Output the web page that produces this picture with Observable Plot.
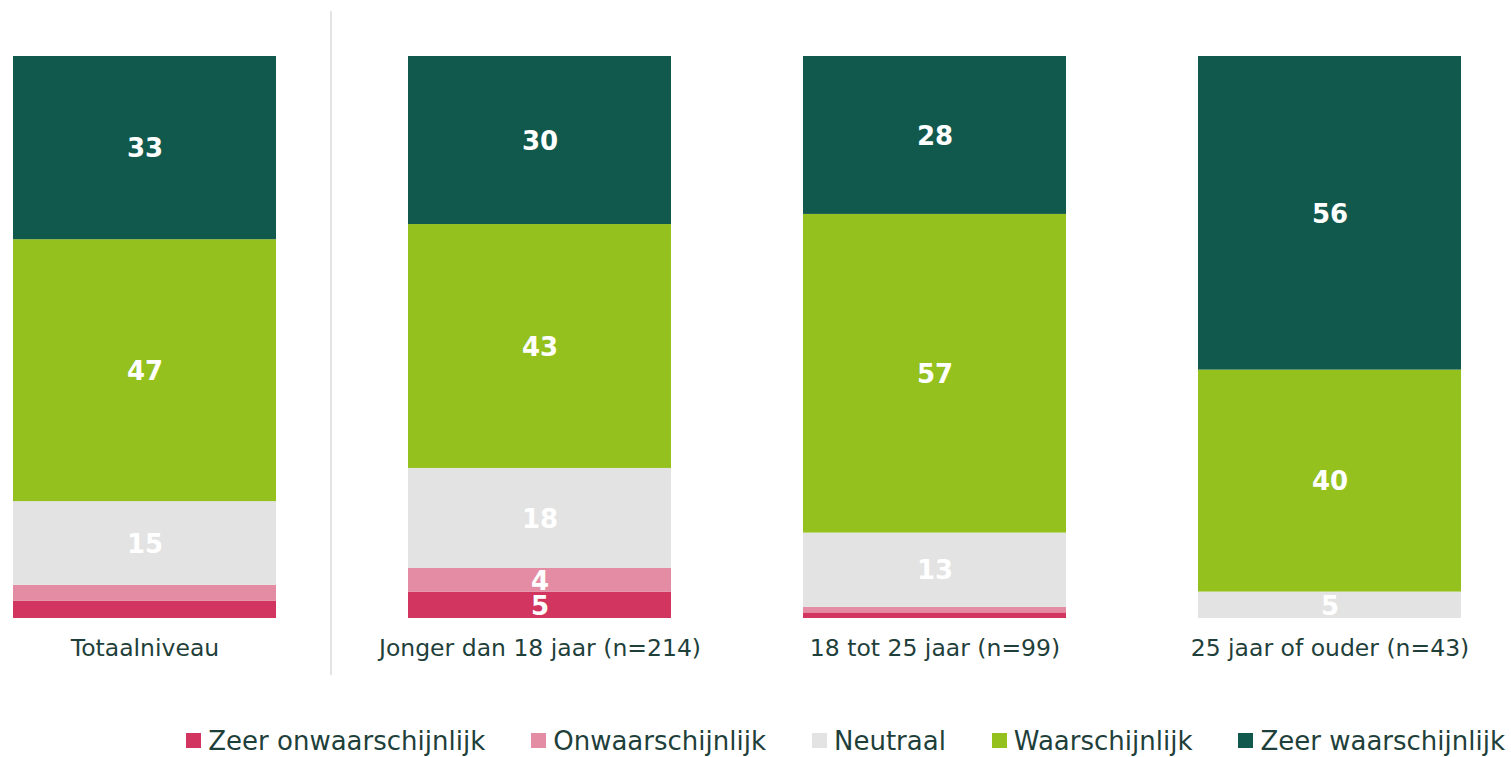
<!DOCTYPE html>
<html>
<head>
<meta charset="utf-8">
<script src="https://cdn.jsdelivr.net/npm/d3@7"></script>
<script src="https://cdn.jsdelivr.net/npm/@observablehq/plot@0.6"></script>
<style>
  body { margin: 0; background: #fff; }
  #wrap { position: relative; width: 1511px; }
  #divider { position: absolute; left: 330px; top: 11px; width: 2px; height: 664px; background: #e4e4e4; }
  .lg-swatches { justify-content: flex-end; padding-right: 6px; margin-top: 34px; font-family: "DejaVu Sans", sans-serif; font-size: 26px; color: #1f3f3b; }
  .lg-swatch { margin-right: 46px; }
  .lg-swatch:last-child { margin-right: 0; }
  .lg-swatch > svg { margin-right: 7px; }
</style>
</head>
<body>
<div id="wrap"><div id="divider"></div></div>
<script>
const categories = ["Totaalniveau", "Jonger dan 18 jaar (n=214)", "18 tot 25 jaar (n=99)", "25 jaar of ouder (n=43)"];
const responses = ["Zeer onwaarschijnlijk", "Onwaarschijnlijk", "Neutraal", "Waarschijnlijk", "Zeer waarschijnlijk"];
const zeerOnwaarschijnlijk = [3.1, 4.7, 1.0, 0];
const onwaarschijnlijk = [2.8, 4.2, 1.0, 0];
const neutraal = [14.9, 17.8, 13.2, 4.7];
const waarschijnlijk = [46.6, 43.4, 56.7, 39.5];
const zeerWaarschijnlijk = [32.6, 29.9, 28.1, 55.8];
const colors = ["#d23660", "#e48ca4", "#e3e3e3", "#95c11f", "#12594d"];

const series = [zeerOnwaarschijnlijk, onwaarschijnlijk, neutraal, waarschijnlijk, zeerWaarschijnlijk];
const rows = [];
responses.forEach((r, i) => categories.forEach((c, j) => rows.push({category: c, response: r, value: series[i][j]})));

const plot = Plot.plot({
  width: 1511,
  height: 690,
  marginTop: 56,
  marginBottom: 72,
  marginLeft: 12,
  marginRight: 48,
  style: {fontFamily: "DejaVu Sans, sans-serif", fontSize: "23.5px", color: "#1f3f3b", background: "transparent", overflow: "visible"},
  x: {domain: categories, paddingInner: 0.333, paddingOuter: 0, label: null},
  y: {domain: [0, 100], axis: null},
  color: {domain: responses, range: colors},
  marks: [
    Plot.barY(rows, {x: "category", y: "value", fill: "response", z: "response"}),
    Plot.text(rows, Plot.stackY({
      x: "category", y: "value", z: "response",
      text: d => Math.round(d.value) >= 4 ? String(Math.round(d.value)) : "",
      fill: "white", fontWeight: "bold", fontSize: 26, dy: 1
    })),
    Plot.axisX({tickSize: 0, tickPadding: 21, fontSize: 23.5, fill: "#1f3f3b", label: null})
  ]
});
document.getElementById("wrap").appendChild(plot);
const legend = plot.legend("color", {className: "lg", swatchSize: 15});
document.body.appendChild(legend);
</script>
</body>
</html>
